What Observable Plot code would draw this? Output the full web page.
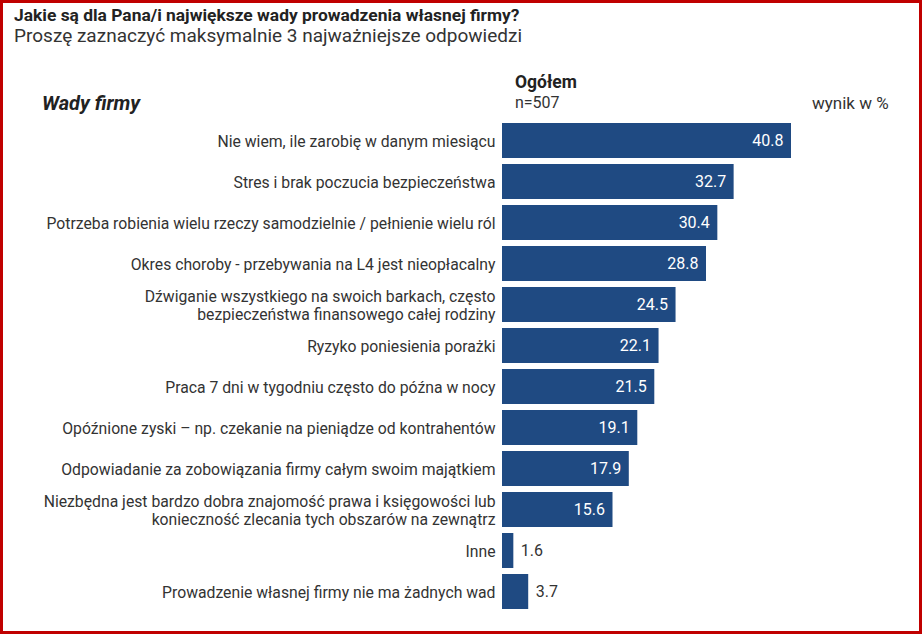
<!DOCTYPE html>
<html><head><meta charset="utf-8">
<script src="https://cdn.jsdelivr.net/npm/d3@7"></script>
<script src="https://cdn.jsdelivr.net/npm/@observablehq/plot@0.6"></script>
<style>
body{margin:0;background:#fff;}
#page{position:relative;width:923px;height:635px;overflow:hidden;font-family:Roboto,"Noto Sans",sans-serif;color:#222;}
#frame{position:absolute;left:0;top:0;width:922px;height:634px;box-sizing:border-box;border:3px solid #c00000;pointer-events:none;}
.t{position:absolute;white-space:nowrap;line-height:1;}
#chart{position:absolute;left:0;top:0;}
</style></head>
<body>
<div id="page">
  <div id="chart"></div>
  <div class="t" style="left:14px;top:7px;font-size:17.4px;font-weight:700;">Jakie są dla Pana/i największe wady prowadzenia własnej firmy?</div>
  <div class="t" style="left:14px;top:26px;font-size:19px;color:#333;">Proszę zaznaczyć maksymalnie 3 najważniejsze odpowiedzi</div>
  <div class="t" style="left:42px;top:93px;font-size:20px;font-weight:700;font-style:italic;">Wady firmy</div>
  <div class="t" style="left:515px;top:74px;font-size:17.5px;font-weight:700;">Ogółem</div>
  <div class="t" style="left:515px;top:95px;font-size:16px;color:#333;">n=507</div>
  <div class="t" style="left:812px;top:95px;font-size:17px;color:#333;">wynik w %</div>
  <div id="frame"></div>
</div>
<script>
const categories = [
  "Nie wiem, ile zarobię w danym miesiącu",
  "Stres i brak poczucia bezpieczeństwa",
  "Potrzeba robienia wielu rzeczy samodzielnie / pełnienie wielu ról",
  "Okres choroby - przebywania na L4 jest nieopłacalny",
  "Dźwiganie wszystkiego na swoich barkach, często\nbezpieczeństwa finansowego całej rodziny",
  "Ryzyko poniesienia porażki",
  "Praca 7 dni w tygodniu często do późna w nocy",
  "Opóźnione zyski – np. czekanie na pieniądze od kontrahentów",
  "Odpowiadanie za zobowiązania firmy całym swoim majątkiem",
  "Niezbędna jest bardzo dobra znajomość prawa i księgowości lub\nkonieczność zlecania tych obszarów na zewnątrz",
  "Inne",
  "Prowadzenie własnej firmy nie ma żadnych wad"
];
const values = [40.8, 32.7, 30.4, 28.8, 24.5, 22.1, 21.5, 19.1, 17.9, 15.6, 1.6, 3.7];

const data = categories.map((c, i) => ({category: c, value: values[i]}));
const fmt = d3.format(".1f");

const chart = Plot.plot({
  width: 923,
  height: 635,
  marginLeft: 502, marginRight: 132, marginTop: 0, marginBottom: 0,
  x: {domain: [0, 40.8], range: [502, 791], axis: null},
  y: {domain: categories, range: [122, 610], paddingInner: 0.15, paddingOuter: 0, label: null},
  style: {fontFamily: "Roboto, 'Noto Sans', sans-serif", background: "transparent"},
  marks: [
    Plot.barX(data, {x: "value", y: "category", fill: "#1f4a82"}),
    Plot.text(data.filter(d => d.value >= 10), {x: "value", y: "category", text: d => fmt(d.value), textAnchor: "end", dx: -8, fill: "white", fontSize: 16}),
    Plot.text(data.filter(d => d.value < 10), {x: "value", y: "category", text: d => fmt(d.value), textAnchor: "start", dx: 7, fill: "#333", fontSize: 16}),
    Plot.axisY({tickSize: 0, tickPadding: 7, fontSize: 15.75, lineHeight: 1.14, fill: "#333", label: null})
  ]
});
document.getElementById("chart").appendChild(chart);
</script>
</body></html>
